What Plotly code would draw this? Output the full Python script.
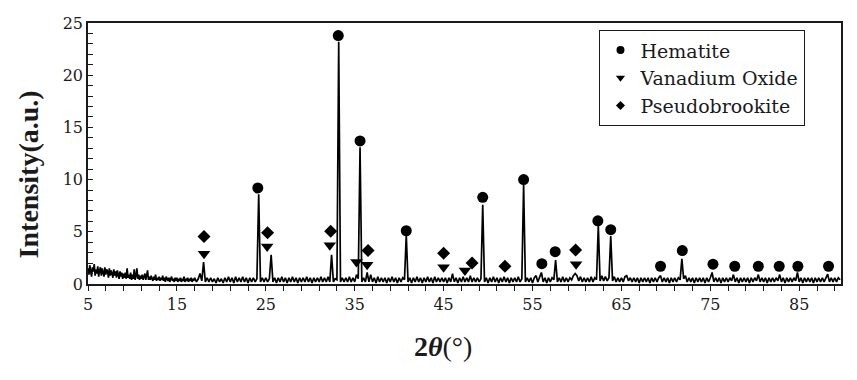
import plotly.graph_objects as go

# ---- XRD scan ----
# low-angle part, sampled every 0.1 deg from 5.0 to 16.9 deg
low_start, low_step = 5.0, 0.1
low_intensity = [
    1.5, 0.9, 1.8, 1.1, 0.7, 1.6, 1.2, 1.9, 0.8, 1.4,
    1.0, 1.7, 0.7, 1.3, 1.6, 0.8, 1.5, 1.1, 0.7, 1.6,
    0.9, 1.4, 1.2, 0.6, 1.5, 0.8, 1.3, 1.0, 0.6, 1.4,
    0.8, 1.2, 0.6, 1.3, 0.9, 0.5, 1.2, 0.7, 1.1, 0.5,
    1.0, 0.6, 1.1, 0.5, 1.5, 0.6, 0.9, 0.5, 1.1, 0.4,
    0.9, 0.5, 1.4, 0.4, 0.8, 1.5, 0.5, 0.9, 0.4, 0.8,
    0.5, 0.9, 0.4, 0.7, 1.0, 0.4, 0.8, 1.3, 0.4, 0.7,
    0.4, 0.8, 0.5, 0.3, 0.7, 0.4, 0.9, 0.3, 0.6, 0.4,
    0.7, 0.3, 0.6, 0.4, 0.8, 0.3, 0.6, 0.2, 0.7, 0.4,
    0.3, 0.6, 0.2, 0.5, 0.7, 0.3, 0.5, 0.2, 0.6, 0.3,
    0.6, 0.2, 0.5, 0.3, 0.6, 0.2, 0.5, 0.3, 0.7, 0.2,
    0.5, 0.3, 0.6, 0.2, 0.5, 0.3, 0.6, 0.2, 0.5, 0.3,
]
# main part, sampled every 0.2 deg from 17.0 to 89.6 deg
main_start, main_step = 17.0, 0.2
main_intensity = [
    # 17.0 - 20.8
    0.6, 0.2, 0.5, 1.0, 0.3, 2.1, 0.2, 0.6, 0.2, 0.6, 0.2, 0.5, 0.1, 0.6, 0.2, 0.5, 0.1, 0.6, 0.2, 0.7,
    # 21.0 - 24.8
    0.2, 0.6, 0.1, 0.7, 0.2, 0.6, 0.2, 0.7, 0.2, 0.6, 0.1, 0.6, 0.2, 0.6, 0.2, 0.5, 8.6, 0.2, 0.6, 0.2,
    # 25.0 - 28.8
    0.6, 0.2, 0.5, 2.8, 0.2, 0.6, 0.1, 0.6, 0.2, 0.7, 0.2, 0.6, 0.1, 0.6, 0.2, 0.7, 0.2, 0.6, 0.1, 0.6,
    # 29.0 - 32.8
    0.2, 0.6, 0.2, 0.7, 0.2, 0.6, 0.1, 0.6, 0.2, 0.6, 0.2, 0.7, 0.2, 0.6, 0.2, 0.7, 0.2, 2.8, 0.2, 0.5,
    # 33.0 - 36.8
    0.4, 23.2, 0.2, 0.6, 0.2, 0.6, 0.2, 0.7, 0.2, 0.6, 0.2, 0.9, 0.5, 13.1, 0.2, 0.6, 0.2, 1.1, 0.2, 0.9,
    # 37.0 - 40.8
    0.2, 0.6, 0.1, 0.7, 0.2, 0.6, 0.2, 0.6, 0.1, 0.6, 0.2, 0.7, 0.2, 0.6, 0.1, 0.6, 0.2, 0.6, 0.4, 4.7,
    # 41.0 - 44.8
    0.2, 0.6, 0.1, 0.6, 0.2, 0.7, 0.2, 0.6, 0.1, 0.6, 0.2, 0.7, 0.2, 0.6, 0.1, 0.7, 0.2, 0.6, 0.2, 0.6,
    # 45.0 - 48.8
    0.2, 0.6, 0.1, 0.6, 0.2, 1.0, 0.2, 0.6, 0.1, 0.6, 0.2, 0.7, 0.2, 0.6, 0.2, 0.8, 0.2, 0.6, 0.2, 0.6,
    # 49.0 - 52.8
    0.2, 0.5, 7.6, 0.2, 0.6, 0.1, 0.6, 0.2, 0.7, 0.2, 0.6, 0.1, 0.6, 0.2, 0.7, 0.2, 0.6, 0.1, 0.6, 0.2,
    # 53.0 - 56.8
    0.6, 0.2, 0.7, 0.2, 0.5, 9.5, 0.2, 0.6, 0.2, 0.6, 0.1, 0.6, 0.8, 0.2, 0.6, 1.1, 0.2, 0.6, 0.1, 0.6,
    # 57.0 - 60.8
    0.2, 0.6, 0.4, 2.3, 0.2, 0.6, 0.2, 0.7, 0.2, 0.6, 0.2, 0.6, 0.4, 0.8, 1.0, 0.8, 0.3, 0.7, 0.2, 0.6,
    # 61.0 - 64.8
    0.2, 0.6, 0.2, 0.7, 0.2, 0.6, 0.4, 5.6, 0.3, 0.8, 0.3, 0.7, 0.3, 0.6, 4.6, 0.3, 0.7, 0.2, 0.6, 0.2,
    # 65.0 - 68.8
    0.6, 0.2, 0.7, 0.8, 0.3, 0.6, 0.2, 0.6, 0.2, 0.6, 0.1, 0.6, 0.2, 0.6, 0.2, 0.6, 0.1, 0.6, 0.2, 0.6,
    # 69.0 - 72.8
    0.2, 0.6, 0.8, 0.2, 0.6, 0.2, 0.6, 0.1, 0.6, 0.2, 0.6, 0.2, 0.6, 0.4, 2.4, 0.5, 0.8, 0.2, 0.6, 0.2,
    # 73.0 - 76.8
    0.6, 0.1, 0.6, 0.2, 0.6, 0.2, 0.6, 0.1, 0.6, 0.2, 0.6, 1.1, 0.2, 0.6, 0.2, 0.6, 0.1, 0.6, 0.2, 0.6,
    # 77.0 - 80.8
    0.2, 0.6, 0.3, 0.9, 0.2, 0.6, 0.1, 0.6, 0.2, 0.6, 0.2, 0.6, 0.1, 0.6, 0.2, 0.6, 0.3, 0.9, 0.2, 0.6,
    # 81.0 - 84.8
    0.2, 0.6, 0.1, 0.6, 0.2, 0.6, 0.2, 0.6, 0.3, 0.9, 0.2, 0.6, 0.1, 0.6, 0.2, 0.6, 0.2, 0.6, 0.3, 1.1,
    # 85.0 - 88.8
    0.2, 0.6, 0.1, 0.6, 0.2, 0.6, 0.2, 0.6, 0.1, 0.6, 0.2, 0.6, 0.2, 0.6, 0.2, 0.6, 0.95, 0.2, 0.6, 0.2,
    # 89.0 - 89.6
    0.6, 0.2, 0.6, 0.4,
]
scan_2theta = ([round(low_start + low_step * i, 2) for i in range(len(low_intensity))]
               + [round(main_start + main_step * i, 2) for i in range(len(main_intensity))])
scan_intensity = low_intensity + main_intensity

# ---- phase markers ----
hematite_x = [24.1, 33.15, 35.6, 40.8, 49.4, 54.0, 56.05, 57.55, 62.35, 63.8, 69.4, 71.85, 75.3, 77.75, 80.4, 82.75, 84.85, 88.3]
hematite_y = [9.2, 23.8, 13.7, 5.1, 8.3, 10.0, 1.95, 3.1, 6.05, 5.2, 1.7, 3.2, 1.9, 1.7, 1.7, 1.7, 1.7, 1.7]
vanadium_x = [18.05, 25.15, 32.2, 35.2, 36.4, 45.0, 47.4, 59.9]
vanadium_y = [2.9, 3.6, 3.7, 2.1, 1.85, 1.6, 1.3, 1.9]
pseudo_x = [18.05, 25.2, 32.3, 36.5, 45.0, 48.2, 51.9, 59.85]
pseudo_y = [4.55, 4.9, 5.05, 3.2, 2.95, 2.0, 1.7, 3.25]

x_ticks = [5, 15, 25, 35, 45, 55, 65, 75, 85]
y_ticks = [0, 5, 10, 15, 20, 25]

F_WIDE = "DejaVu Serif"
F_TIMES = "Liberation Serif"
INK = "#1a1a1a"

fig = go.Figure()
fig.add_trace(go.Scatter(x=scan_2theta, y=scan_intensity, mode="lines",
                         line=dict(color="black", width=1.7), showlegend=False, hoverinfo="skip"))

phases = [
    ("Hematite", hematite_x, hematite_y, "circle", 11, 8),
    ("Vanadium Oxide", vanadium_x, vanadium_y, "triangle-down", 11, 8),
    ("Pseudobrookite", pseudo_x, pseudo_y, "diamond", 10, 7),
]
for name, xs, ys, sym, sz, lsz in phases:
    fig.add_trace(go.Scatter(x=xs, y=ys, mode="markers", name=name, showlegend=False,
                             marker=dict(symbol=sym, size=sz, color="black", line=dict(width=0))))
for name, xs, ys, sym, sz, lsz in phases:
    fig.add_trace(go.Scatter(x=[None], y=[None], mode="markers", name=name,
                             marker=dict(symbol=sym, size=lsz, color="black", line=dict(width=0))))

fig.update_layout(
    width=857, height=380,
    margin=dict(l=88, r=16, t=23, b=96),
    paper_bgcolor="white", plot_bgcolor="white",
    font=dict(family=F_WIDE, color=INK, size=16),
    showlegend=True,
    legend=dict(x=0.679, y=0.973, xanchor="left", yanchor="top",
                bordercolor=INK, borderwidth=1.2, bgcolor="white",
                font=dict(family=F_WIDE, size=19, color=INK),
                itemsizing="trace"),
    xaxis=dict(range=[5, 89.7], tickmode="array", tickvals=x_ticks,
               ticks="outside", ticklen=5, tickcolor=INK, tickwidth=1,
               minor=dict(tickmode="linear", tick0=5, dtick=2, ticks="outside", ticklen=5, tickcolor=INK),
               showline=True, linecolor=INK, linewidth=1.5, mirror=True,
               showgrid=False, zeroline=False,
               tickfont=dict(family=F_WIDE, size=16, color=INK)),
    yaxis=dict(range=[0, 25], tickmode="array", tickvals=y_ticks,
               ticks="inside", ticklen=5, tickcolor=INK, tickwidth=1,
               minor=dict(tickmode="linear", tick0=0, dtick=1, ticks="inside", ticklen=5, tickcolor=INK),
               showline=True, linecolor=INK, linewidth=1.5, mirror=True,
               showgrid=False, zeroline=False,
               tickfont=dict(family=F_WIDE, size=16, color=INK)),
    annotations=[
        dict(text="<b>Intensity(a.u.)</b>", textangle=-90, xref="paper", yref="paper",
             x=-0.079, y=0.418, xanchor="center", yanchor="middle", showarrow=False,
             font=dict(family=F_TIMES, size=28, color=INK)),
        dict(text="<b>2<i>θ</i></b>(°)", xref="paper", yref="paper",
             x=0.471, y=-0.24, xanchor="center", yanchor="middle", showarrow=False,
             font=dict(family=F_TIMES, size=28, color=INK)),
    ],
)

fig.write_html("out.html")
